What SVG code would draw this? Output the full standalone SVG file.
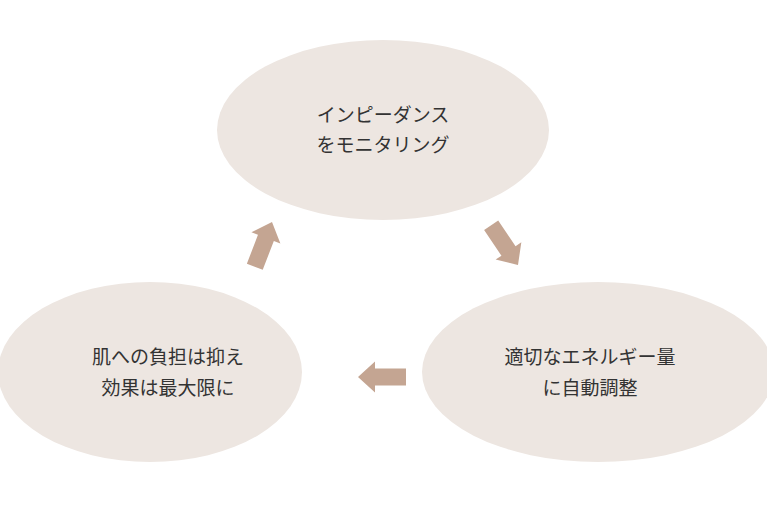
<svg xmlns="http://www.w3.org/2000/svg" width="767" height="511" viewBox="0 0 767 511">
<style>
.n{fill:#ede6e1}
.t{font-family:"Noto Sans CJK JP",sans-serif;font-size:19px;fill:#333;text-anchor:middle}
.a{fill:#c4a592}
</style>
<defs><polygon id="arr" points="-48,-8.5 -17,-8.5 -17,-15.5 0,0 -17,15.5 -17,8.5 -48,8.5"/></defs>
<rect width="767" height="511" fill="#fff"/>
<g id="n1"><ellipse class="n" cx="383" cy="130" rx="166" ry="90"/><text class="t" x="383" y="122">インピーダンス</text><text class="t" x="383" y="152">をモニタリング</text></g>
<g id="n2"><ellipse class="n" cx="598" cy="372" rx="176" ry="90"/><text class="t" x="590" y="364">適切なエネルギー量</text><text class="t" x="590" y="395">に自動調整</text></g>
<g id="n3"><ellipse class="n" cx="150" cy="372" rx="152" ry="90"/><text class="t" x="168" y="364">肌への負担は抑え</text><text class="t" x="168" y="395">効果は最大限に</text></g>
<g id="connectors">
<use href="#arr" class="a" transform="translate(518,265) rotate(56)"/>
<use href="#arr" class="a" transform="translate(358,377) rotate(180)"/>
<use href="#arr" class="a" transform="translate(272,222) rotate(-69)"/>
</g>
</svg>
